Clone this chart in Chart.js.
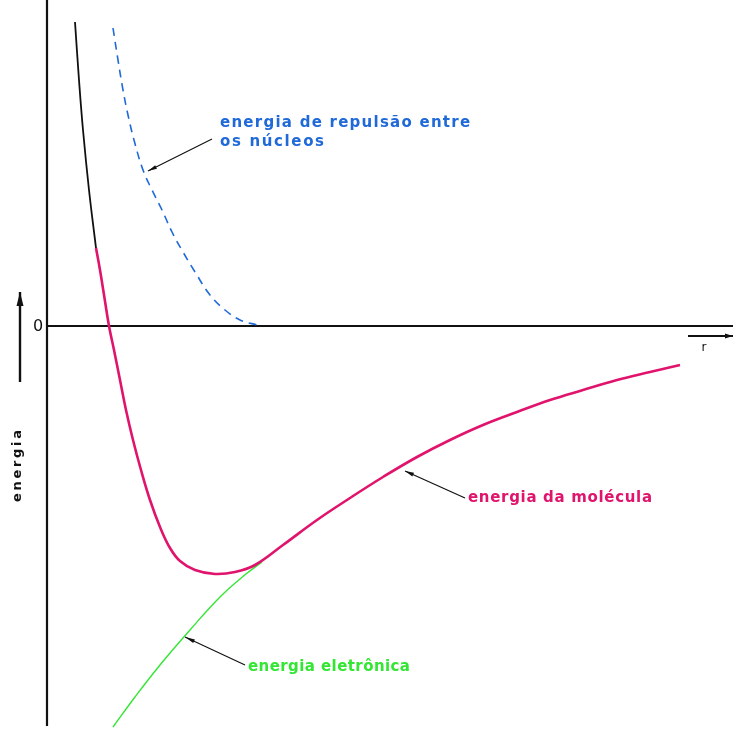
<!DOCTYPE html>
<html>
<head>
<meta charset="utf-8">
<script src="https://cdn.jsdelivr.net/npm/chart.js@4"></script>
<style>
html,body{margin:0;padding:0;background:#fff;}
#wrap{width:733px;height:729px;}
</style>
</head>
<body>
<div id="wrap"><canvas id="c" width="733" height="729"></canvas></div>
<script>
// r (arbitrary units) and energy (arbitrary units, 0 = dissociated atoms)
const upperX = [0.28, 0.32, 0.36, 0.42, 0.49];
const upperY = [3.04, 2.46, 1.96, 1.36, 0.78];

const moleculeX = [0.49, 0.53, 0.575, 0.62, 0.67, 0.73, 0.79, 0.86, 0.94, 1.03, 1.13, 1.23, 1.33, 1.48, 1.68, 1.88, 2.08, 2.36, 2.70, 3.03, 3.36, 3.70, 4.03, 4.36, 4.70, 5.03, 5.36, 5.70, 6.03, 6.33];
const moleculeY = [0.78, 0.56, 0.28, 0.00, -0.24, -0.54, -0.84, -1.14, -1.44, -1.74, -2.01, -2.22, -2.35, -2.44, -2.48, -2.46, -2.39, -2.19, -1.94, -1.72, -1.51, -1.31, -1.14, -0.99, -0.86, -0.74, -0.64, -0.54, -0.46, -0.39];

const electronicX = [0.66, 0.88, 1.13, 1.43, 1.74, 1.99, 2.15];
const electronicY = [-4.01, -3.71, -3.39, -3.04, -2.70, -2.48, -2.36];

const repulsionX = [0.66, 0.71, 0.76, 0.81, 0.87, 0.96, 1.05, 1.15, 1.25, 1.36, 1.48, 1.63, 1.78, 1.93, 2.10];
const repulsionY = [2.98, 2.66, 2.36, 2.11, 1.86, 1.56, 1.36, 1.16, 0.94, 0.74, 0.54, 0.31, 0.16, 0.06, 0.01];

const labels = {
  repulsion1: "energia de repulsão entre",
  repulsion2: "os núcleos",
  molecule: "energia da molécula",
  electronic: "energia eletrônica",
  yAxis: "energia",
  xAxis: "r",
  zero: "0"
};

const pts = (xs, ys) => xs.map((x, i) => ({x: x, y: ys[i]}));

const BLUE = '#1f6ad8', MAGENTA = '#e0146c', GREEN = '#33e633';

function arrow(ctx, x1, y1, x2, y2, head, hw) {
  ctx.beginPath();
  ctx.moveTo(x1, y1); ctx.lineTo(x2, y2); ctx.stroke();
  const a = Math.atan2(y2 - y1, x2 - x1);
  const c = Math.cos(a), s = Math.sin(a);
  ctx.beginPath();
  ctx.moveTo(x2, y2);
  ctx.lineTo(x2 - head * c + hw * s, y2 - head * s - hw * c);
  ctx.lineTo(x2 - head * c - hw * s, y2 - head * s + hw * c);
  ctx.closePath(); ctx.fill();
}

// draw text spread to a given width
function fitText(ctx, text, x, y, width) {
  ctx.letterSpacing = '0px';
  const w = ctx.measureText(text).width;
  const sp = (width - w) / Math.max(1, text.length - 1);
  ctx.letterSpacing = sp.toFixed(2) + 'px';
  ctx.fillText(text, x, y);
  ctx.letterSpacing = '0px';
}

const decor = {
  id: 'decor',
  beforeDatasetsDraw(chart) {
    const ctx = chart.ctx, xs = chart.scales.x, ys = chart.scales.y;
    const x0 = xs.getPixelForValue(0), y0 = ys.getPixelForValue(0);
    ctx.save();
    ctx.strokeStyle = '#111'; ctx.lineWidth = 2.2;
    ctx.beginPath(); ctx.moveTo(x0, chart.chartArea.top); ctx.lineTo(x0, chart.chartArea.bottom - 3); ctx.stroke();
    ctx.lineWidth = 1.8;
    ctx.beginPath(); ctx.moveTo(x0, y0); ctx.lineTo(chart.chartArea.right, y0); ctx.stroke();
    ctx.restore();
  },
  afterDatasetsDraw(chart) {
    const ctx = chart.ctx, ys = chart.scales.y;
    const y0 = ys.getPixelForValue(0);
    ctx.save();
    ctx.textBaseline = 'middle';
    ctx.textAlign = 'left';
    ctx.font = 'bold 15px "DejaVu Sans"';
    ctx.fillStyle = BLUE;
    fitText(ctx, labels.repulsion1, 220, 123, 250);
    fitText(ctx, labels.repulsion2, 220, 142, 104);
    ctx.fillStyle = MAGENTA;
    fitText(ctx, labels.molecule, 468, 498, 184);
    ctx.fillStyle = GREEN;
    fitText(ctx, labels.electronic, 248, 667, 162);
    // zero and axis labels
    ctx.fillStyle = '#111';
    ctx.font = '16px "DejaVu Sans"';
    ctx.textAlign = 'center';
    ctx.fillText(labels.zero, 38, y0 + 1);
    ctx.font = '12px "DejaVu Sans"';
    ctx.fillText(labels.xAxis, 704, 348);
    ctx.save();
    ctx.translate(18, 466);
    ctx.rotate(-Math.PI / 2);
    ctx.font = 'bold 13px "DejaVu Sans"';
    ctx.textAlign = 'left';
    fitText(ctx, labels.yAxis, -36, 0, 72);
    ctx.restore();
    // arrows
    ctx.strokeStyle = '#111'; ctx.fillStyle = '#111'; ctx.lineWidth = 1.2;
    arrow(ctx, 212, 139, 148, 171, 9, 2);
    arrow(ctx, 465, 498, 405, 471, 9, 2);
    arrow(ctx, 245, 665, 185, 637, 10, 2);
    ctx.lineWidth = 2.4;
    arrow(ctx, 20, 382, 20, 292, 14, 3.5);
    ctx.lineWidth = 1.8;
    arrow(ctx, 688, 336, 733, 336, 8, 2.5);
    ctx.restore();
  }
};

new Chart(document.getElementById('c'), {
  type: 'scatter',
  data: {
    datasets: [
      {data: pts(upperX, upperY), borderColor: '#111', borderWidth: 1.8},
      {data: pts(moleculeX, moleculeY), borderColor: MAGENTA, borderWidth: 2.6},
      {data: pts(electronicX, electronicY), borderColor: GREEN, borderWidth: 1.4},
      {data: pts(repulsionX, repulsionY), borderColor: BLUE, borderWidth: 1.6, borderDash: [8, 6]}
    ].map(d => Object.assign({showLine: true, pointRadius: 0, pointHoverRadius: 0, tension: 0.4, fill: false}, d))
  },
  options: {
    responsive: false,
    animation: false,
    events: [],
    layout: {padding: {left: 47, right: 0, top: 0, bottom: 0}},
    plugins: {legend: {display: false}, tooltip: {enabled: false}},
    scales: {
      x: {type: 'linear', min: 0, max: 6.86, display: false},
      y: {type: 'linear', min: -4.03, max: 3.26, display: false}
    }
  },
  plugins: [decor]
});
</script>
</body>
</html>
